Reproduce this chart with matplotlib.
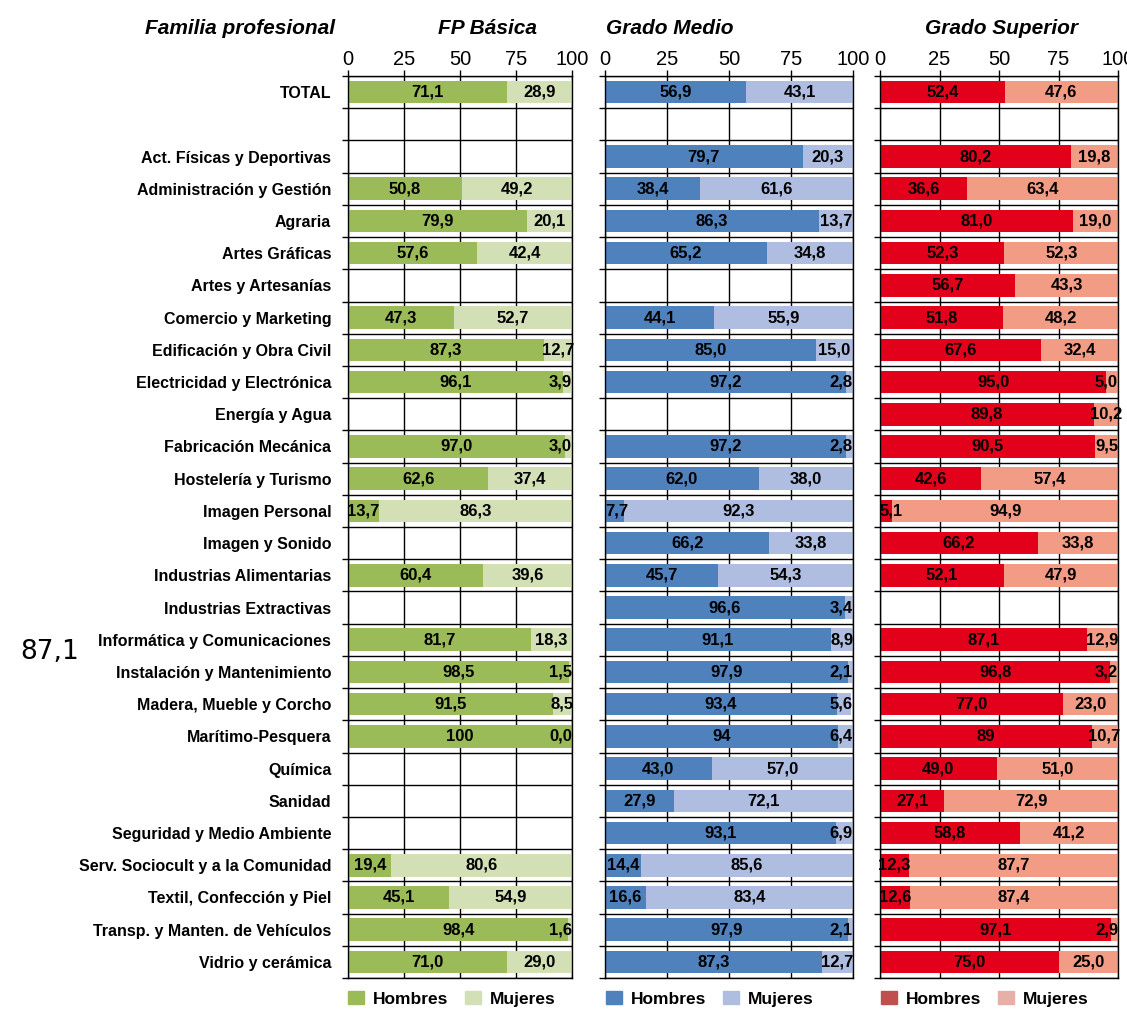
import matplotlib.pyplot as plt
from matplotlib.patches import Patch

plt.rcParams['font.family'] = ['DejaVu Sans Condensed', 'Liberation Sans Narrow', 'Liberation Sans']

# Filas: TOTAL, fila vacía y las familias profesionales
familias = ["TOTAL", "",
            "Act. Físicas y Deportivas", "Administración y Gestión", "Agraria",
            "Artes Gráficas", "Artes y Artesanías", "Comercio y Marketing",
            "Edificación y Obra Civil", "Electricidad y Electrónica",
            "Energía y Agua", "Fabricación Mecánica", "Hostelería y Turismo",
            "Imagen Personal", "Imagen y Sonido", "Industrias Alimentarias",
            "Industrias Extractivas", "Informática y Comunicaciones",
            "Instalación y Mantenimiento", "Madera, Mueble y Corcho",
            "Marítimo-Pesquera", "Química", "Sanidad",
            "Seguridad y Medio Ambiente", "Serv. Sociocult y a la Comunidad",
            "Textil, Confección y Piel", "Transp. y Manten. de Vehículos",
            "Vidrio y cerámica"]

# % Hombres / Mujeres (None = sin datos)
basica_h = [71.1, None, None, 50.8, 79.9, 57.6, None, 47.3, 87.3, 96.1, None, 97.0,
            62.6, 13.7, None, 60.4, None, 81.7, 98.5, 91.5, 100, None, None, None,
            19.4, 45.1, 98.4, 71.0]
basica_m = [28.9, None, None, 49.2, 20.1, 42.4, None, 52.7, 12.7, 3.9, None, 3.0,
            37.4, 86.3, None, 39.6, None, 18.3, 1.5, 8.5, 0.0, None, None, None,
            80.6, 54.9, 1.6, 29.0]

medio_h = [56.9, None, 79.7, 38.4, 86.3, 65.2, None, 44.1, 85.0, 97.2, None, 97.2,
           62.0, 7.7, 66.2, 45.7, 96.6, 91.1, 97.9, 93.4, 94, 43.0, 27.9, 93.1,
           14.4, 16.6, 97.9, 87.3]
medio_m = [43.1, None, 20.3, 61.6, 13.7, 34.8, None, 55.9, 15.0, 2.8, None, 2.8,
           38.0, 92.3, 33.8, 54.3, 3.4, 8.9, 2.1, 5.6, 6.4, 57.0, 72.1, 6.9,
           85.6, 83.4, 2.1, 12.7]

superior_h = [52.4, None, 80.2, 36.6, 81.0, 52.3, 56.7, 51.8, 67.6, 95.0, 89.8, 90.5,
              42.6, 5.1, 66.2, 52.1, None, 87.1, 96.8, 77.0, 89, 49.0, 27.1, 58.8,
              12.3, 12.6, 97.1, 75.0]
superior_m = [47.6, None, 19.8, 63.4, 19.0, 52.3, 43.3, 48.2, 32.4, 5.0, 10.2, 9.5,
              57.4, 94.9, 33.8, 47.9, None, 12.9, 3.2, 23.0, 10.7, 51.0, 72.9, 41.2,
              87.7, 87.4, 2.9, 25.0]

ticks_x = [0, 25, 50, 75, 100]


def etiqueta(v):
    if isinstance(v, int):
        return str(v)
    return f"{v:.1f}".replace(".", ",")


def dibujar_panel(ax, hombres, mujeres, c_h, c_m):
    n = len(familias)
    for i in range(n):
        h, m = hombres[i], mujeres[i]
        if h is None:
            continue
        ax.barh(i, h, height=0.7, color=c_h, zorder=2)
        ax.barh(i, m, left=h, height=0.7, color=c_m, zorder=2)
        # etiqueta hombres
        if h < 8:
            ax.text(0, i, etiqueta(h), ha='left', va='center', fontsize=12,
                    fontweight='bold', zorder=3)
        else:
            ax.text(h / 2, i, etiqueta(h), ha='center', va='center', fontsize=12,
                    fontweight='bold', zorder=3)
        # etiqueta mujeres
        fin = min(h + m, 100)
        if fin - h < 8:
            ax.text(100, i, etiqueta(m), ha='right', va='center', fontsize=12,
                    fontweight='bold', zorder=3, clip_on=False)
        else:
            ax.text((h + fin) / 2, i, etiqueta(m), ha='center', va='center',
                    fontsize=12, fontweight='bold', zorder=3)

    ax.set_xlim(0, 100)
    ax.set_ylim(n - 0.5, -0.5)
    ax.set_xticks(ticks_x)
    ax.xaxis.tick_top()
    ax.tick_params(axis='x', labelsize=14.5, length=4, width=1, pad=1)
    ax.set_yticks(range(n))
    ax.set_yticks([k - 0.5 for k in range(n + 1)], minor=True)
    ax.tick_params(axis='y', which='major', length=0)
    ax.tick_params(axis='y', which='minor', length=4, width=1)
    ax.set_yticklabels([])
    ax.grid(True, axis='x', color='black', linewidth=1)
    ax.grid(True, axis='y', which='minor', color='black', linewidth=1)
    ax.set_axisbelow(True)
    for s in ax.spines.values():
        s.set_linewidth(1)
    for lab in ax.get_xticklabels():
        lab.set_family(['Liberation Sans', 'DejaVu Sans'])


fig = plt.figure(figsize=(11.27, 10.09), dpi=100)
bottom = 31 / 1009
height = 902 / 1009
ax1 = fig.add_axes([348 / 1127, bottom, 224 / 1127, height])
ax2 = fig.add_axes([605 / 1127, bottom, 248 / 1127, height])
ax3 = fig.add_axes([880 / 1127, bottom, 238 / 1127, height])

dibujar_panel(ax1, basica_h, basica_m, '#9BBB59', '#D3E0B6')
dibujar_panel(ax2, medio_h, medio_m, '#4F81BD', '#AEBDE0')
dibujar_panel(ax3, superior_h, superior_m, '#E2001A', '#F29C85')

ax1.set_yticklabels(familias, fontsize=11.5, fontweight='bold')
ax1.tick_params(axis='y', which='major', pad=12)

# títulos
titulo = dict(fontsize=15, fontweight='bold', fontstyle='italic', va='center', ha='center')
fig.text(240 / 1127, 1 - 28 / 1009, "Familia profesional", **titulo)
fig.text(488 / 1127, 1 - 28 / 1009, "FP Básica", **titulo)
fig.text(670 / 1127, 1 - 28 / 1009, "Grado Medio", **titulo)
fig.text(1002 / 1127, 1 - 28 / 1009, "Grado Superior", **titulo)

fig.text(50 / 1127, 1 - 652 / 1009, "87,1", fontsize=19, ha='center', va='center',
         family=['DejaVu Sans'])

# leyendas
leyendas = [(452, '#9BBB59', '#D3E0B6'), (710, '#4F81BD', '#AEBDE0'),
            (985, '#C0504D', '#E6B0A8')]
for xc, c_h, c_m in leyendas:
    handles = [Patch(color=c_h, label='Hombres'), Patch(color=c_m, label='Mujeres')]
    fig.legend(handles=handles, loc='center', ncol=2, frameon=False,
               bbox_to_anchor=(xc / 1127, 1 - 999 / 1009),
               prop={'weight': 'bold', 'size': 12.5}, handlelength=0.9,
               handleheight=0.75, columnspacing=1.0, handletextpad=0.5)

fig.savefig('out.png', dpi=100)
